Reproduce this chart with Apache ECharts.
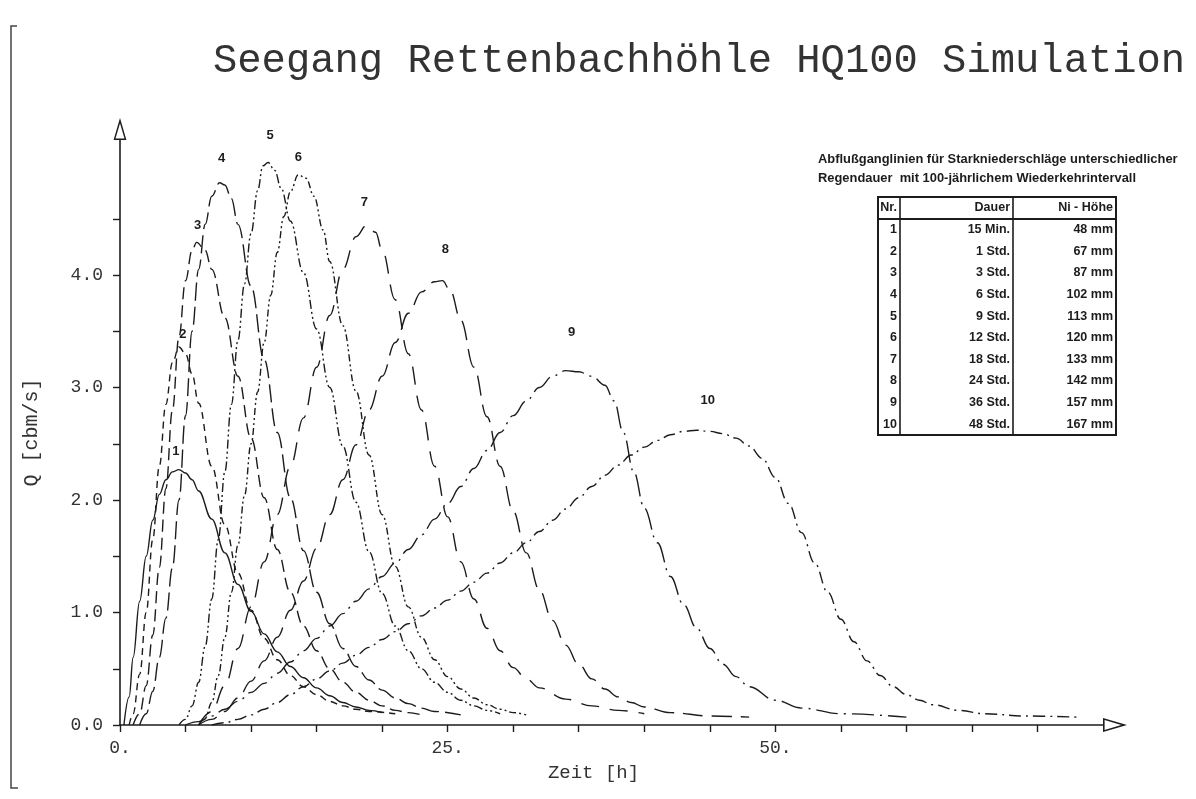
<!DOCTYPE html>
<html><head><meta charset="utf-8">
<script src="https://cdn.jsdelivr.net/npm/echarts@6/dist/echarts.min.js"></script>
<style>html,body{margin:0;padding:0;background:#fff}#c{width:1196px;height:799px}</style>
</head><body><div id="c"></div>
<script>
// ---------- data ----------
const titleText = 'Seegang Rettenbachhöhle HQ100 Simulation';
const xName = 'Zeit [h]';
const yName = 'Q [cbm/s]';
const xTickValues = [0,5,10,15,20,25,30,35,40,45,50,55,60,65,70];
const xLabelValues = [0,25,50];
const yTickValues = [0,0.5,1,1.5,2,2.5,3,3.5,4,4.5];
const yLabelValues = [0,1,2,3,4];

const legendLines = ['Abflußganglinien für Starkniederschläge unterschiedlicher',
                     'Regendauer  mit 100-jährlichem Wiederkehrintervall'];
const tableHead = ['Nr.','Dauer','Ni - Höhe'];
const tableNr = ['1','2','3','4','5','6','7','8','9','10'];
const tableDauer = ['15 Min.','1 Std.','3 Std.','6 Std.','9 Std.','12 Std.','18 Std.','24 Std.','36 Std.','48 Std.'];
const tableHoehe = ['48 mm','67 mm','87 mm','102 mm','113 mm','120 mm','133 mm','142 mm','157 mm','167 mm'];

// [t (h), Q (m3/s)]
const curve1 = [[0.3,0],[0.7,0.25],[1,0.6],[1.5,1.1],[2,1.5],[2.5,1.82],[3,2.05],[3.5,2.18],[4,2.25],[4.5,2.27],[5,2.24],[5.5,2.18],[6,2.08],[7,1.83],[8,1.53],[9,1.25],[10,1.01],[11,0.81],[12,0.65],[13,0.52],[14,0.42],[15,0.33],[16,0.26],[17,0.2],[18,0.16],[19,0.13],[20,0.11]];
const curve2 = [[0.7,0],[1,0.1],[1.5,0.45],[2,1.0],[2.5,1.65],[3,2.3],[3.5,2.85],[4,3.22],[4.5,3.36],[5,3.3],[5.5,3.12],[6,2.86],[7,2.3],[8,1.78],[9,1.35],[10,1.02],[11,0.77],[12,0.58],[13,0.44],[14,0.34],[15,0.27],[16,0.21],[17,0.17],[18,0.14],[19,0.12],[21,0.1]];
const curve3 = [[1,0],[1.5,0.1],[2,0.35],[2.5,0.8],[3,1.4],[3.5,2.1],[4,2.8],[4.5,3.45],[5,3.95],[5.5,4.22],[5.85,4.29],[6.5,4.22],[7,4.05],[8,3.62],[9,3.1],[10,2.55],[11,2.02],[12,1.56],[13,1.18],[14,0.88],[15,0.66],[16,0.5],[17,0.38],[18,0.29],[19,0.22],[20,0.17],[21,0.13],[22,0.11],[23,0.09]];
const curve4 = [[1.5,0],[2,0.1],[2.5,0.3],[3,0.6],[3.5,0.95],[4,1.4],[4.5,2.0],[5,2.75],[5.5,3.5],[6,4.05],[6.5,4.45],[7,4.7],[7.6,4.82],[8,4.8],[8.5,4.68],[9,4.45],[10,3.9],[11,3.25],[12,2.6],[13,2.02],[14,1.55],[15,1.18],[16,0.9],[17,0.68],[18,0.52],[19,0.4],[20,0.31],[21,0.24],[22,0.19],[23,0.15],[24,0.12],[26,0.09]];
const curve5 = [[4.5,0],[5,0.05],[5.5,0.17],[6,0.38],[6.5,0.7],[7,1.12],[7.5,1.65],[8,2.25],[8.5,2.85],[9,3.42],[9.5,3.92],[10,4.37],[10.5,4.75],[10.9,4.97],[11.3,5.0],[11.8,4.93],[12.3,4.77],[13,4.48],[14,4.02],[15,3.52],[16,3.0],[17,2.48],[18,1.98],[19,1.54],[20,1.17],[21,0.88],[22,0.66],[23,0.5],[24,0.38],[25,0.29],[26,0.22],[27,0.17],[28,0.13],[29,0.1]];
const curve6 = [[6,0],[6.5,0.06],[7,0.2],[7.5,0.44],[8,0.78],[8.5,1.18],[9,1.6],[9.5,2.04],[10,2.5],[10.5,2.96],[11,3.4],[11.5,3.82],[12,4.2],[12.5,4.52],[13,4.74],[13.6,4.89],[14.2,4.86],[14.8,4.7],[15.5,4.4],[16,4.12],[17,3.55],[18,2.97],[19,2.4],[20,1.87],[21,1.41],[22,1.05],[23,0.78],[24,0.58],[25,0.43],[26,0.32],[27,0.24],[28,0.18],[29,0.14],[30,0.11],[31,0.09]];
const curve7 = [[6,0],[7,0.12],[8,0.35],[9,0.68],[10,1.05],[11,1.45],[12,1.87],[13,2.3],[14,2.73],[15,3.18],[16,3.64],[17,4.05],[18,4.34],[18.8,4.44],[19.5,4.38],[20,4.22],[21,3.78],[22,3.3],[23,2.8],[24,2.3],[25,1.85],[26,1.45],[27,1.12],[28,0.86],[29,0.66],[30,0.51],[31,0.41],[32,0.33],[34,0.23],[36,0.17],[38,0.13],[40,0.1]];
const curve8 = [[6,0],[7,0.05],[8,0.12],[9,0.24],[10,0.39],[11,0.57],[12,0.78],[13,1.02],[14,1.28],[15,1.57],[16,1.87],[17,2.18],[18,2.49],[19,2.8],[20,3.1],[21,3.4],[22,3.66],[23,3.85],[24,3.94],[24.6,3.95],[25.2,3.86],[26,3.6],[27,3.18],[28,2.74],[29,2.3],[30,1.9],[31,1.53],[32,1.2],[33,0.93],[34,0.71],[35,0.54],[36,0.41],[37,0.32],[38,0.25],[39,0.2],[40,0.16],[42,0.11],[45,0.08],[48,0.07]];
const curve9 = [[5,0],[6,0.03],[7,0.08],[8,0.14],[9,0.21],[10,0.29],[11,0.37],[12,0.46],[13,0.56],[14,0.66],[15,0.77],[16,0.88],[17,0.99],[18,1.1],[19,1.21],[20,1.32],[21,1.44],[22,1.56],[23,1.69],[24,1.83],[25,1.97],[26,2.12],[27,2.28],[28,2.44],[29,2.6],[30,2.75],[31,2.88],[32,3.0],[33,3.1],[34,3.15],[35,3.14],[36,3.1],[37,3.02],[37.7,2.88],[38.4,2.6],[39.2,2.25],[40,1.93],[41,1.62],[42,1.32],[43,1.07],[44,0.86],[45,0.68],[46,0.54],[47,0.43],[48,0.34],[50,0.22],[52,0.15],[55,0.1],[60,0.07]];
const curve10 = [[7,0],[8,0.02],[9,0.05],[10,0.09],[11,0.14],[12,0.2],[13,0.27],[14,0.34],[15,0.41],[16,0.48],[17,0.55],[18,0.62],[19,0.69],[20,0.76],[21,0.83],[22,0.9],[23,0.97],[24,1.04],[25,1.11],[26,1.19],[27,1.27],[28,1.35],[29,1.44],[30,1.53],[31,1.62],[32,1.72],[33,1.82],[34,1.92],[35,2.02],[36,2.12],[37,2.22],[38,2.31],[39,2.4],[40,2.47],[41,2.53],[42,2.58],[43,2.61],[44,2.62],[45,2.61],[46,2.59],[47,2.55],[48,2.48],[49,2.37],[50,2.2],[51,1.97],[52,1.71],[53,1.44],[54,1.18],[55,0.94],[56,0.74],[57,0.57],[58,0.44],[59,0.34],[60,0.27],[61,0.22],[62,0.18],[64,0.13],[66,0.1],[69,0.08],[73,0.07]];

const curves = [curve1,curve2,curve3,curve4,curve5,curve6,curve7,curve8,curve9,curve10];
const curveNames = ['1','2','3','4','5','6','7','8','9','10'];

// ---------- styles ----------
const ink = '#1c1c1c';
const dashes = [
  'solid',
  [7,5],
  [12,6],
  [18,6],
  [9,3,2,3,2,3],
  [7,3,2,3,2,3],
  [18,11],
  [20,9],
  [22,6,2,6],
  [12,5,2,5]
];
const peakLabelOffset = [[-3,-18],[4,-13],[1,-17],[2,-24],[2,-27],[0,-17],[-2,-23],[3,-31],[6,-38],[11,-30]];
const arrowPath = 'path://M7,0L14,24L0,24Z M7,5.7L2.1,22.4L11.9,22.4Z';

const series = curves.map((d, i) => ({
  type: 'line',
  name: curveNames[i],
  data: d,
  smooth: 0.4,
  smoothMonotone: 'x',
  showSymbol: false,
  symbol: 'none',
  lineStyle: { color: ink, width: 1.4, type: dashes[i] },
  z: 3,
  markPoint: {
    symbol: 'circle', symbolSize: 1,
    itemStyle: { color: 'rgba(0,0,0,0)' },
    data: [{ type: 'max' }],
    label: {
      show: true, position: 'inside', offset: peakLabelOffset[i],
      formatter: curveNames[i],
      fontFamily: 'Liberation Sans', fontWeight: 'bold', fontSize: 13, color: ink
    }
  }
}));

// ---------- table & legend text (graphic) ----------
const tLeft = 878, colW = [22, 113, 103], tTop = 197, headH = 22, rowH = 21.6;
const tRight = tLeft + colW[0] + colW[1] + colW[2];
const tBottom = tTop + headH + rowH * tableNr.length;
const colRight = [tLeft + colW[0], tLeft + colW[0] + colW[1], tRight];
const tFont = { fontFamily: 'Liberation Sans', fontWeight: 'bold', fontSize: 12.5, fill: ink };
const graphics = [];
legendLines.forEach((s, i) => graphics.push({
  type: 'text', left: 818, top: 153 + i * 19,
  style: Object.assign({ text: s }, tFont, { fontSize: 12.9 })
}));
graphics.push({ type: 'rect', shape: { x: tLeft, y: tTop, width: tRight - tLeft, height: tBottom - tTop },
  style: { fill: 'none', stroke: ink, lineWidth: 2 } });
graphics.push({ type: 'line', shape: { x1: tLeft, y1: tTop + headH, x2: tRight, y2: tTop + headH },
  style: { stroke: ink, lineWidth: 2 } });
[colRight[0], colRight[1]].forEach(x => graphics.push({ type: 'line',
  shape: { x1: x, y1: tTop, x2: x, y2: tBottom }, style: { stroke: ink, lineWidth: 1.6 } }));
tableHead.forEach((h, c) => graphics.push({ type: 'text', x: colRight[c] - 3, y: tTop + headH / 2,
  style: Object.assign({ text: h, align: 'right', verticalAlign: 'middle' }, tFont) }));
tableNr.forEach((n, r) => {
  const y = tTop + headH + rowH * (r + 0.5);
  [n, tableDauer[r], tableHoehe[r]].forEach((s, c) => graphics.push({ type: 'text',
    x: colRight[c] - 3, y: y, style: Object.assign({ text: s, align: 'right', verticalAlign: 'middle' }, tFont) }));
});
// page border mark of the scan (left bracket)
graphics.push({ type: 'polyline', shape: { points: [[17, 26], [11, 26], [11, 788], [18, 788]] },
  style: { stroke: '#444', lineWidth: 1.5, fill: 'none' } });

const chart = echarts.init(document.getElementById('c'), null, { renderer: 'canvas' });
chart.setOption({
  animation: false,
  backgroundColor: '#fff',
  title: {
    text: titleText, left: 208, top: 36,
    textStyle: { fontFamily: 'Liberation Mono', fontWeight: 'normal', fontSize: 40.5, color: '#333' }
  },
  grid: { left: 120, right: 93, top: 140, bottom: 74, containLabel: false },
  xAxis: {
    type: 'value', min: 0, max: 75, interval: 5,
    name: xName, nameLocation: 'middle', nameGap: 38,
    nameTextStyle: { fontFamily: 'Liberation Mono', fontSize: 19, color: '#333', padding: [0, 36, 0, 0] },
    axisLine: { show: true, lineStyle: { color: ink, width: 1.6 }, symbol: ['none', arrowPath], symbolSize: [14, 24], symbolOffset: [0, 12] },
    axisTick: { show: true, customValues: xTickValues, length: 7, lineStyle: { color: ink, width: 1.4 } },
    axisLabel: { customValues: xLabelValues, formatter: v => v + '.', margin: 14,
      fontFamily: 'Liberation Mono', fontSize: 18, color: '#333' },
    splitLine: { show: false }
  },
  yAxis: {
    type: 'value', min: 0, max: 5.2, interval: 0.5,
    name: yName, nameLocation: 'middle', nameGap: 78, nameRotate: 90,
    nameTextStyle: { fontFamily: 'Liberation Mono', fontSize: 20, color: '#333' },
    axisLine: { show: true, lineStyle: { color: ink, width: 1.6 }, symbol: ['none', arrowPath], symbolSize: [14, 22], symbolOffset: [0, 11] },
    axisTick: { show: true, customValues: yTickValues, length: 7, lineStyle: { color: ink, width: 1.4 } },
    axisLabel: { customValues: yLabelValues, formatter: v => v.toFixed(1), margin: 17,
      fontFamily: 'Liberation Mono', fontSize: 18, color: '#333' },
    splitLine: { show: false }
  },
  series: series,
  graphic: graphics
});
</script>
</body></html>
